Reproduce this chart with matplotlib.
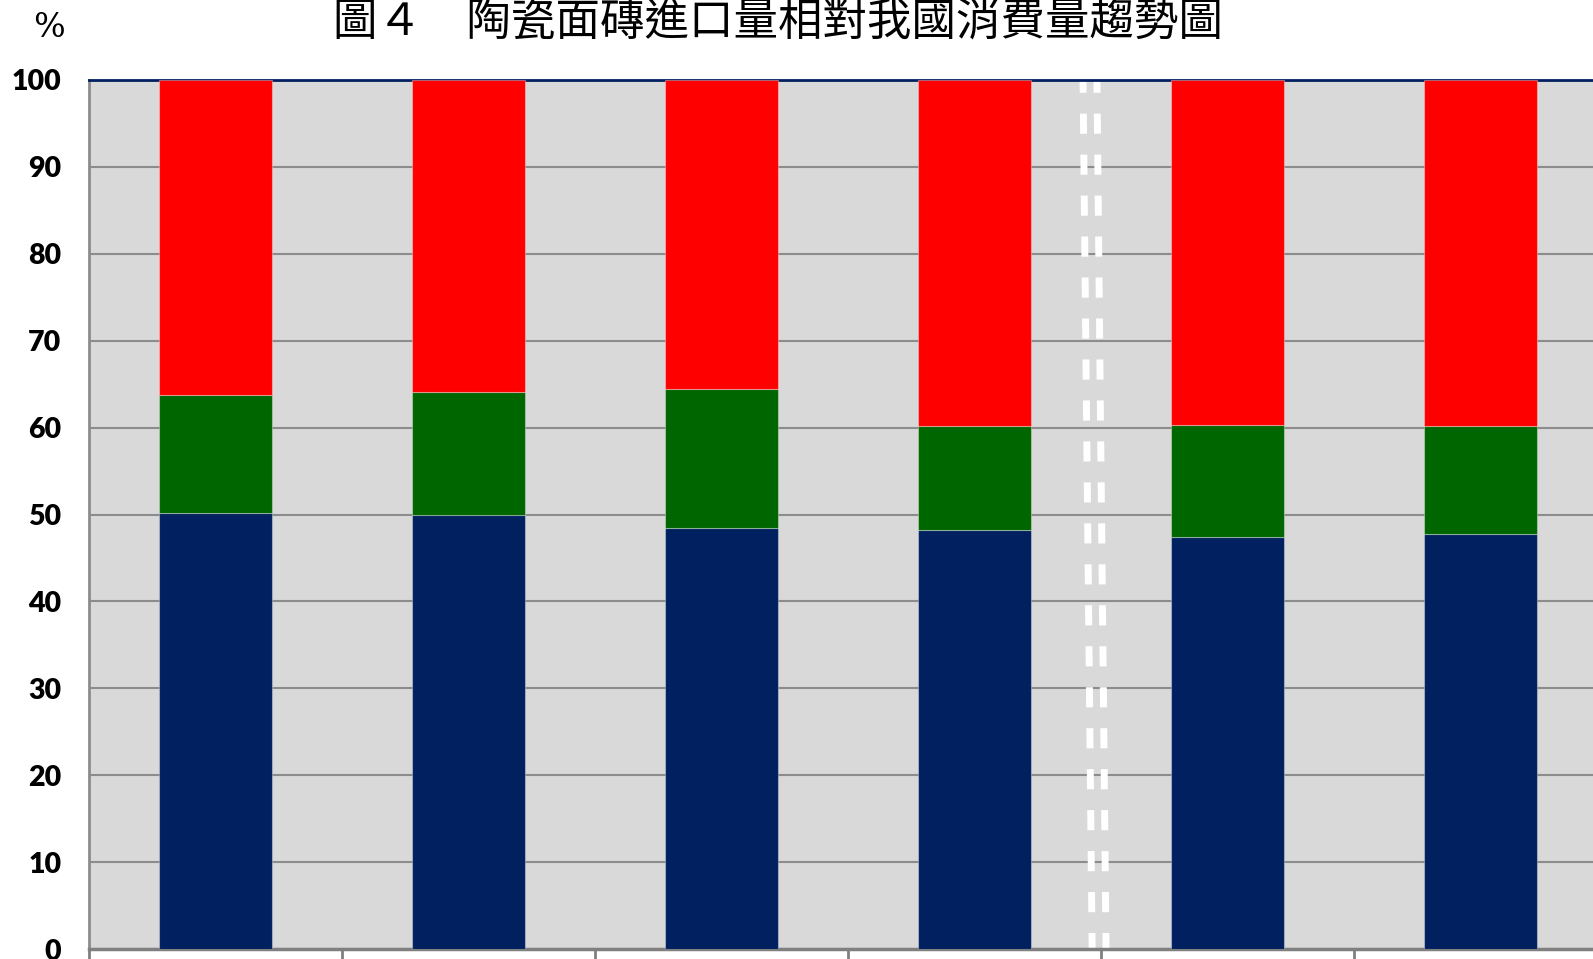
import matplotlib
matplotlib.use("Agg")
import matplotlib.pyplot as plt
import numpy as np

# 陶瓷面磚：國產內銷 / 其他 / 進口 占消費量比例 (%)
blue_vals = [50.2, 50.0, 48.4, 48.2, 47.4, 47.8]
green_vals = [13.6, 14.1, 16.0, 12.0, 12.9, 12.4]
red_vals = [100 - b - g for b, g in zip(blue_vals, green_vals)]
yticks = list(range(0, 101, 10))
title = "圖４　陶瓷面磚進口量相對我國消費量趨勢圖"

plt.rcParams['font.family'] = ['Lato', 'DejaVu Sans']

fig = plt.figure(figsize=(15.93, 9.59), dpi=100)
ax = fig.add_axes([89/1593, 1 - 949/959, (1607-89)/1593, 869/959])
ax.set_facecolor("#D9D9D9")

x = np.arange(len(blue_vals))
w = 0.445
edge = (1, 1, 1, 0.35)
ax.bar(x, blue_vals, w, color="#002060", edgecolor=edge, linewidth=0.8, zorder=3)
ax.bar(x, green_vals, w, bottom=blue_vals, color="#006600", edgecolor=edge, linewidth=0.8, zorder=3)
bottoms = [b + g for b, g in zip(blue_vals, green_vals)]
ax.bar(x, red_vals, w, bottom=bottoms, color="#FF0000", edgecolor=edge, linewidth=0.8, zorder=3)

# 斷層虛線（雙白線）
for dx in (-0.071, -0.016):
    ax.plot([3.5 + dx + 0.036, 3.5 + dx], [0, 100], color="white", lw=5,
            linestyle=(0.6, (2.9, 3.0)), solid_capstyle="butt", zorder=2)

ax.set_xlim(-0.5, len(blue_vals) - 0.5)
ax.set_ylim(0, 100)
ax.set_yticks(yticks)
ax.set_yticklabels([str(t) for t in yticks], fontsize=20.5, fontweight="heavy")
ax.tick_params(axis="y", length=0, pad=20)
ax.set_xticks(np.arange(-0.5, len(blue_vals) + 0.5, 1))
ax.set_xticklabels([])
ax.tick_params(axis="x", length=10, width=2, color="#808080", direction="out")
ax.yaxis.grid(True, color="#8C8C8C", lw=1.5, zorder=1)
ax.set_axisbelow(True)

ax.spines["top"].set_color("#002060")
ax.spines["top"].set_linewidth(2)
ax.spines["left"].set_color("#8C8C8C")
ax.spines["left"].set_linewidth(2)
ax.spines["bottom"].set_color("#808080")
ax.spines["bottom"].set_linewidth(2.5)
ax.spines["right"].set_visible(False)

fig.text(778/1593, 1 - 23/959, title, ha="center", va="center", fontsize=32,
         family=["Noto Sans CJK TC", "DejaVu Sans"])
fig.text(49/1593, 1 - 28/959, "%", ha="center", va="center", fontsize=24,
         family=["DejaVu Serif"])

fig.savefig("out.png", dpi=100)
